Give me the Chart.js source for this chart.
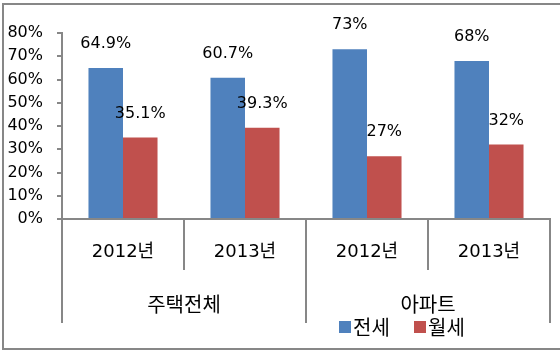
<!DOCTYPE html>
<html>
<head>
<meta charset="utf-8">
<script src="https://cdn.jsdelivr.net/npm/chart.js@4/dist/chart.umd.min.js"></script>
<style>
html,body{margin:0;padding:0;background:#fff;}
canvas{display:block;}
</style>
</head>
<body>
<canvas id="c" width="560" height="353"></canvas>
<script>
const years = ['2012년', '2013년', '2012년', '2013년'];
const groups = ['주택전체', '아파트'];
const seriesNames = ['전세', '월세'];
const jeonse = [64.9, 60.7, 73, 68];
const wolse = [35.1, 39.3, 27, 32];
const yTicks = [0, 10, 20, 30, 40, 50, 60, 70, 80];
const colors = ['#4F81BD', '#C0504D'];

const GRAY = '#878787';
const LATIN = '"DejaVu Sans", "Noto Sans CJK KR", sans-serif';

const fmt = v => v + '%';

const decor = {
  id: 'decor',
  beforeDraw(chart) {
    const ctx = chart.ctx;
    ctx.save();
    ctx.fillStyle = '#fff';
    ctx.fillRect(0, 0, chart.width, chart.height);
    ctx.strokeStyle = GRAY;
    ctx.lineWidth = 2;
    ctx.strokeRect(3, 4, chart.width + 10, 345);
    ctx.restore();
  },
  afterDatasetsDraw(chart) {
    const ctx = chart.ctx;
    ctx.save();
    ctx.font = '16px ' + LATIN;
    ctx.fillStyle = '#000';
    ctx.textAlign = 'center';
    ctx.textBaseline = 'middle';
    chart.data.datasets.forEach((ds, i) => {
      const meta = chart.getDatasetMeta(i);
      meta.data.forEach((bar, j) => {
        ctx.fillText(fmt(ds.data[j]), bar.x, bar.y - 24);
      });
    });
    ctx.restore();
  },
  afterDraw(chart) {
    const ctx = chart.ctx;
    ctx.save();
    ctx.font = '20px "Noto Sans CJK KR", sans-serif';
    ctx.textBaseline = 'middle';
    ctx.textAlign = 'left';
    let x = 339;
    const yc = 327;
    chart.data.datasets.forEach((ds, i) => {
      ctx.fillStyle = ds.backgroundColor;
      ctx.fillRect(x, yc - 6, 12, 12);
      ctx.fillStyle = '#000';
      ctx.fillText(ds.label, x + 14, yc);
      x += 75;
    });
    ctx.restore();
  }
};

new Chart(document.getElementById('c'), {
  type: 'bar',
  data: {
    labels: years,
    datasets: [
      { label: seriesNames[0], data: jeonse, backgroundColor: colors[0] },
      { label: seriesNames[1], data: wolse, backgroundColor: colors[1] }
    ]
  },
  options: {
    responsive: false,
    animation: false,
    devicePixelRatio: 1,
    layout: { padding: { top: 33, right: 10, left: 0, bottom: 0 } },
    datasets: { bar: { categoryPercentage: 0.566, barPercentage: 1.0 } },
    plugins: { legend: { display: false }, tooltip: { enabled: false } },
    scales: {
      y: {
        min: 0, max: 80,
        afterBuildTicks(scale) { scale.ticks = yTicks.map(v => ({ value: v })); },
        afterFit(scale) { scale.width = 62; },
        ticks: { callback: fmt, font: { size: 16, family: LATIN }, color: '#000', padding: 14 },
        grid: { drawOnChartArea: false, drawTicks: true, tickLength: 5, color: GRAY, lineWidth: 2 },
        border: { color: GRAY, width: 2 }
      },
      x: {
        position: 'bottom',
        afterFit(scale) { scale.height = 51; },
        ticks: { font: { size: 18, family: LATIN }, color: '#000', padding: -28, autoSkip: false, maxRotation: 0 },
        grid: { offset: true, drawOnChartArea: false, drawTicks: true, tickLength: 51, color: GRAY, lineWidth: 2 },
        border: { color: GRAY, width: 2 }
      },
      x2: {
        type: 'category',
        position: 'bottom',
        labels: groups,
        afterFit(scale) { scale.height = 83; },
        ticks: { font: { size: 20, family: '"Noto Sans CJK KR", sans-serif' }, color: '#000', padding: -31, autoSkip: false, maxRotation: 0 },
        grid: { offset: true, drawOnChartArea: false, drawTicks: true, tickLength: 53, color: GRAY, lineWidth: 2 },
        border: { display: false }
      }
    }
  },
  plugins: [decor]
});
</script>
</body>
</html>
